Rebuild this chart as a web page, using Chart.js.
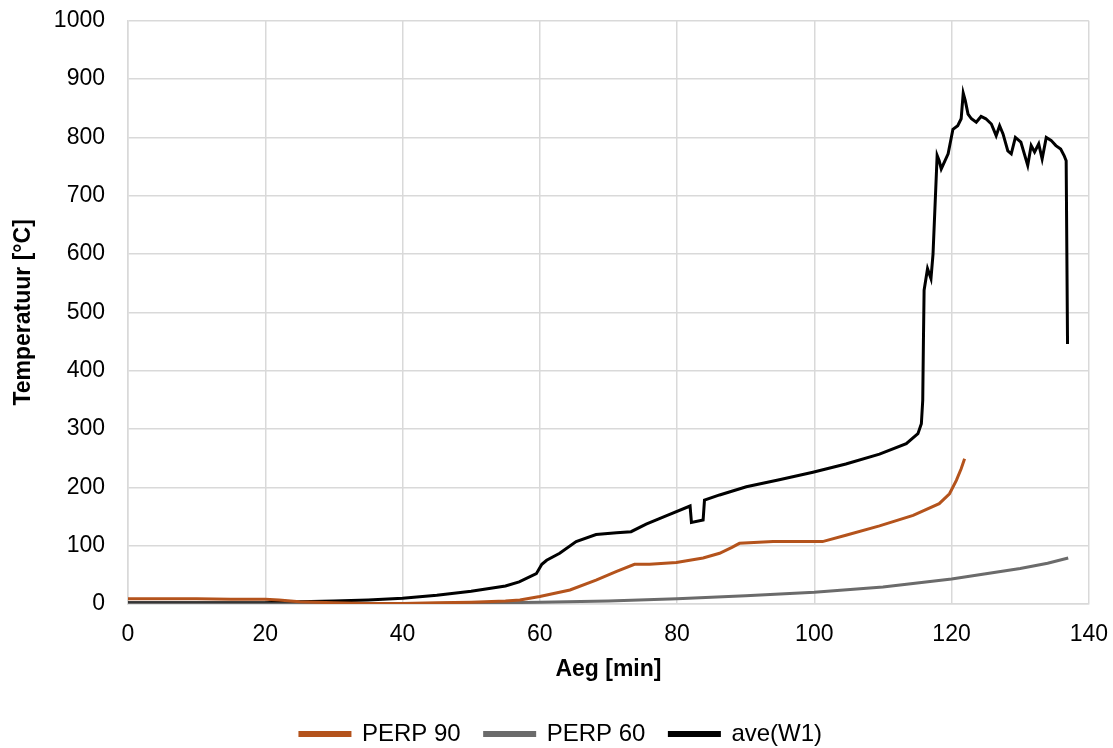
<!DOCTYPE html>
<html>
<head>
<meta charset="utf-8">
<script src="https://cdn.jsdelivr.net/npm/chart.js@4/dist/chart.umd.min.js"></script>
<style>
  html, body { margin: 0; padding: 0; background: #ffffff; }
  #wrap { width: 1113px; height: 748px; }
</style>
</head>
<body>
<div id="wrap"><canvas id="chart" width="1113" height="748"></canvas></div>
<script>
// time in minutes, temperature in °C
const perp90Time = [0, 5, 10, 15, 20, 22, 25, 30, 35, 40, 45, 50, 55, 57.1, 60, 64.4, 68.2, 71.2, 73.8, 76, 79.9, 83.8, 86.2, 88, 89.1, 94, 101.2, 104.6, 109.5, 114.4, 118.2, 119.7, 120.7, 121.4, 121.9];
const perp90Temp = [9, 9, 9, 8, 8, 7, 4, 2, 1, 1, 2, 3, 5, 7, 13, 24, 41, 56, 68, 68, 71, 79, 87, 97, 104, 107, 107, 118, 134, 152, 172, 189, 212, 232, 249];

const perp60Time = [0, 20, 40, 50, 60, 70, 80, 90, 100, 110, 120, 125, 130, 134, 137];
const perp60Temp = [0, 0, 0.5, 1.5, 3, 5, 9, 14, 20, 29, 43, 52, 61, 70, 79];

const aveTime = [0, 5, 10, 15, 20, 22, 25, 30, 35, 40, 45, 50, 55, 57, 59.5, 60.3, 61, 62.9, 65.3, 68.2, 71.2, 73.3, 75.5, 78.4, 81.9, 82.1, 83.8, 84.0, 86.2, 90.1, 94.9, 99.8, 104.6, 109.5, 113.4, 115.1, 115.6, 115.8, 115.9, 116.0, 116.5, 117.0, 117.3, 117.9, 118.2, 118.5, 119.5, 120.2, 120.9, 121.4, 121.7, 122.0, 122.4, 122.9, 123.6, 124.3, 125.0, 125.8, 126.5, 127.0, 127.5, 128.2, 128.7, 129.3, 130.1, 131.1, 131.6, 132.1, 132.7, 133.2, 133.8, 134.5, 135.2, 135.9, 136.4, 136.7, 136.9];
const aveTemp = [2, 2, 2, 2, 2, 3, 4, 5, 7, 10, 15, 22, 31, 38, 52, 68, 75, 87, 107, 119, 122, 124, 137, 151, 168, 140, 144, 178, 187, 201, 213, 226, 240, 257, 275, 292, 309, 349, 450, 538, 575, 558, 600, 769, 760, 746, 772, 814, 820, 832, 876, 863, 840, 832, 826, 836, 832, 823, 803, 820, 806, 777, 772, 800, 792, 752, 786, 775, 789, 763, 800, 795, 786, 780, 769, 760, 446];

const seriesNames = ['PERP 90', 'PERP 60', 'ave(W1)'];
const seriesColors = ['#b4531c', '#6b6b6b', '#000000'];

const xTitle = 'Aeg [min]';
const yTitle = 'Temperatuur [°C]';

function toPoints(xs, ys) {
  return xs.map((x, i) => ({ x: x, y: ys[i] }));
}

const fontFamily = '"Liberation Sans", Arial, sans-serif';
const gridColor = '#d9d9d9';
const padLeft = 13;

const ctx = document.getElementById('chart').getContext('2d');

new Chart(ctx, {
  type: 'scatter',
  data: {
    datasets: [
      { label: seriesNames[0], data: toPoints(perp90Time, perp90Temp), borderColor: seriesColors[0], backgroundColor: seriesColors[0] },
      { label: seriesNames[1], data: toPoints(perp60Time, perp60Temp), borderColor: seriesColors[1], backgroundColor: seriesColors[1] },
      { label: seriesNames[2], data: toPoints(aveTime, aveTemp), borderColor: seriesColors[2], backgroundColor: seriesColors[2] }
    ].map(ds => Object.assign(ds, {
      showLine: true,
      borderWidth: 3,
      pointRadius: 0,
      pointHoverRadius: 0,
      tension: 0
    }))
  },
  options: {
    responsive: false,
    animation: false,
    layout: { padding: { top: 4, right: 4, bottom: -8, left: padLeft } },
    plugins: {
      legend: {
        position: 'bottom',
        labels: {
          boxWidth: 50,
          boxHeight: 3,
          padding: 24,
          color: '#000000',
          font: { family: fontFamily, size: 24 }
        }
      },
      tooltip: { enabled: false }
    },
    scales: {
      x: {
        type: 'linear',
        min: 0,
        max: 140,
        afterFit: function(scale) { scale.height = 94; },
        ticks: {
          stepSize: 20,
          color: '#000000',
          padding: 5,
          font: { family: fontFamily, size: 23 },
          callback: function(value) { return String(value); }
        },
        // invisible tick marks keep the labels away from the axis
        grid: { color: gridColor, lineWidth: 1.5, drawTicks: true, tickLength: 12, tickColor: 'rgba(0,0,0,0)' },
        border: { color: gridColor, width: 1.5 },
        title: {
          display: true,
          text: xTitle,
          color: '#000000',
          font: { family: fontFamily, size: 23, weight: 'bold' },
          padding: { top: 0, bottom: 15 }
        }
      },
      y: {
        min: 0,
        max: 1000,
        afterFit: function(scale) { scale.width = 128 - padLeft; },
        ticks: {
          stepSize: 100,
          color: '#000000',
          padding: 7,
          font: { family: fontFamily, size: 23 },
          callback: function(value) { return String(value); }
        },
        grid: { color: gridColor, lineWidth: 1.5, drawTicks: true, tickLength: 16, tickColor: 'rgba(0,0,0,0)' },
        border: { color: gridColor, width: 1.5 },
        title: {
          display: true,
          text: yTitle,
          color: '#000000',
          font: { family: fontFamily, size: 23, weight: 'bold' },
          padding: { top: 24 - padLeft - 13.8, bottom: 0 }
        }
      }
    }
  }
});
</script>
</body>
</html>
